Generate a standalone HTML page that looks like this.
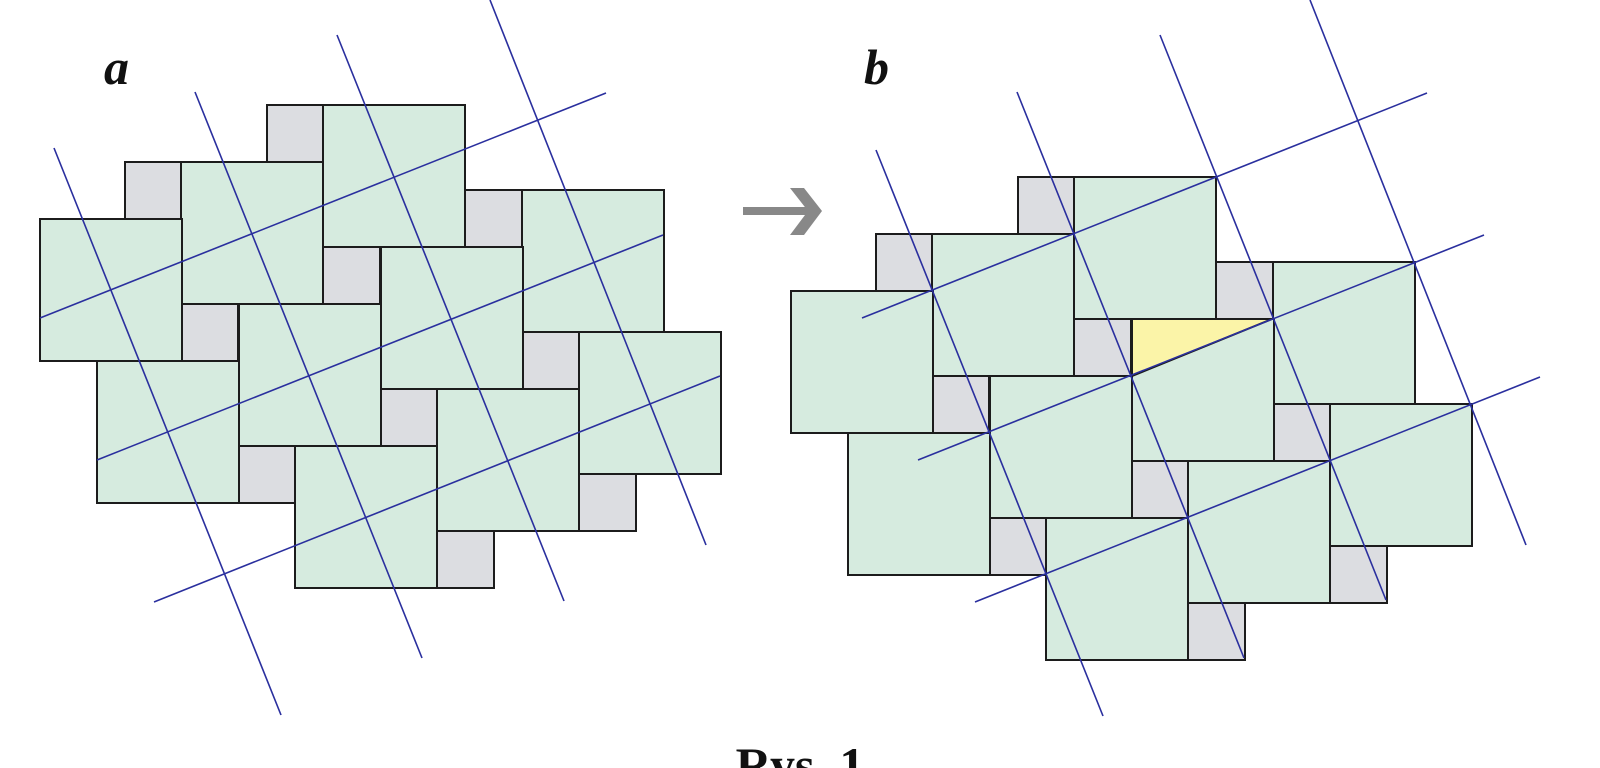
<!DOCTYPE html>
<html><head><meta charset="utf-8"><style>
html,body{margin:0;padding:0;background:#fff;width:1600px;height:768px;overflow:hidden}
</style></head><body>
<svg width="1600" height="768" viewBox="0 0 1600 768" xmlns="http://www.w3.org/2000/svg">
<defs>
<g id="tiles" stroke="#1c1c1c" stroke-width="2">
  <g fill="#dcdde1">
    <rect x="267" y="105" width="57" height="57"/>
    <rect x="125" y="162" width="57" height="57"/>
    <rect x="465" y="190" width="57" height="57"/>
    <rect x="323" y="247" width="57" height="57"/>
    <rect x="181" y="304" width="57" height="57"/>
    <rect x="522" y="332" width="57" height="57"/>
    <rect x="381" y="389" width="57" height="57"/>
    <rect x="239" y="446" width="57" height="57"/>
    <rect x="579" y="474" width="57" height="57"/>
    <rect x="437" y="531" width="57" height="57"/>
  </g>
  <g fill="#d6ebdf">
    <rect x="323" y="105" width="142" height="142"/>
    <rect x="181" y="162" width="142" height="142"/>
    <rect x="40" y="219" width="142" height="142"/>
    <rect x="522" y="190" width="142" height="142"/>
    <rect x="381" y="247" width="142" height="142"/>
    <rect x="239" y="304" width="142" height="142"/>
    <rect x="97" y="361" width="142" height="142"/>
    <rect x="579" y="332" width="142" height="142"/>
    <rect x="437" y="389" width="142" height="142"/>
    <rect x="295" y="446" width="142" height="142"/>
  </g>
</g>
</defs>
<use href="#tiles"/>
<g stroke="#2a2f9e" stroke-width="1.6">
  <line x1="54" y1="148" x2="281" y2="715"/>
  <line x1="195" y1="92" x2="422" y2="658"/>
  <line x1="337" y1="35" x2="564" y2="601"/>
  <line x1="490" y1="0" x2="706" y2="545"/>
  <line x1="40" y1="318" x2="606" y2="93"/>
  <line x1="97" y1="460" x2="663" y2="235"/>
  <line x1="154" y1="602" x2="720" y2="376"/>
</g>
<g transform="translate(751,72)"><use href="#tiles"/></g>
<polygon points="1132,319 1272,319 1132,376" fill="#fbf4a8" stroke="#1c1c1c" stroke-width="2"/>
<g stroke="#2a2f9e" stroke-width="1.6">
  <line x1="876" y1="150" x2="1103" y2="716"/>
  <line x1="1017" y1="92" x2="1244" y2="658"/>
  <line x1="1160" y1="35" x2="1386" y2="600"/>
  <line x1="1310" y1="0" x2="1526" y2="545"/>
  <line x1="862" y1="318" x2="1427" y2="93"/>
  <line x1="918" y1="460" x2="1484" y2="235"/>
  <line x1="975" y1="602" x2="1540" y2="377"/>
</g>
<g fill="#888">
  <rect x="743" y="207" width="69" height="8"/>
  <polygon points="790,188 804,188 822,211 804,235 790,235 808,211"/>
</g>
<text x="104" y="84" font-family="Liberation Serif, serif" font-size="50" font-weight="bold" font-style="italic" fill="#111">a</text>
<text x="864" y="84" font-family="Liberation Serif, serif" font-size="50" font-weight="bold" font-style="italic" fill="#111">b</text>
<text x="800" y="782" text-anchor="middle" font-family="Liberation Serif, serif" font-size="50" font-weight="bold" fill="#111">Rys. 1</text>
</svg>
</body></html>
